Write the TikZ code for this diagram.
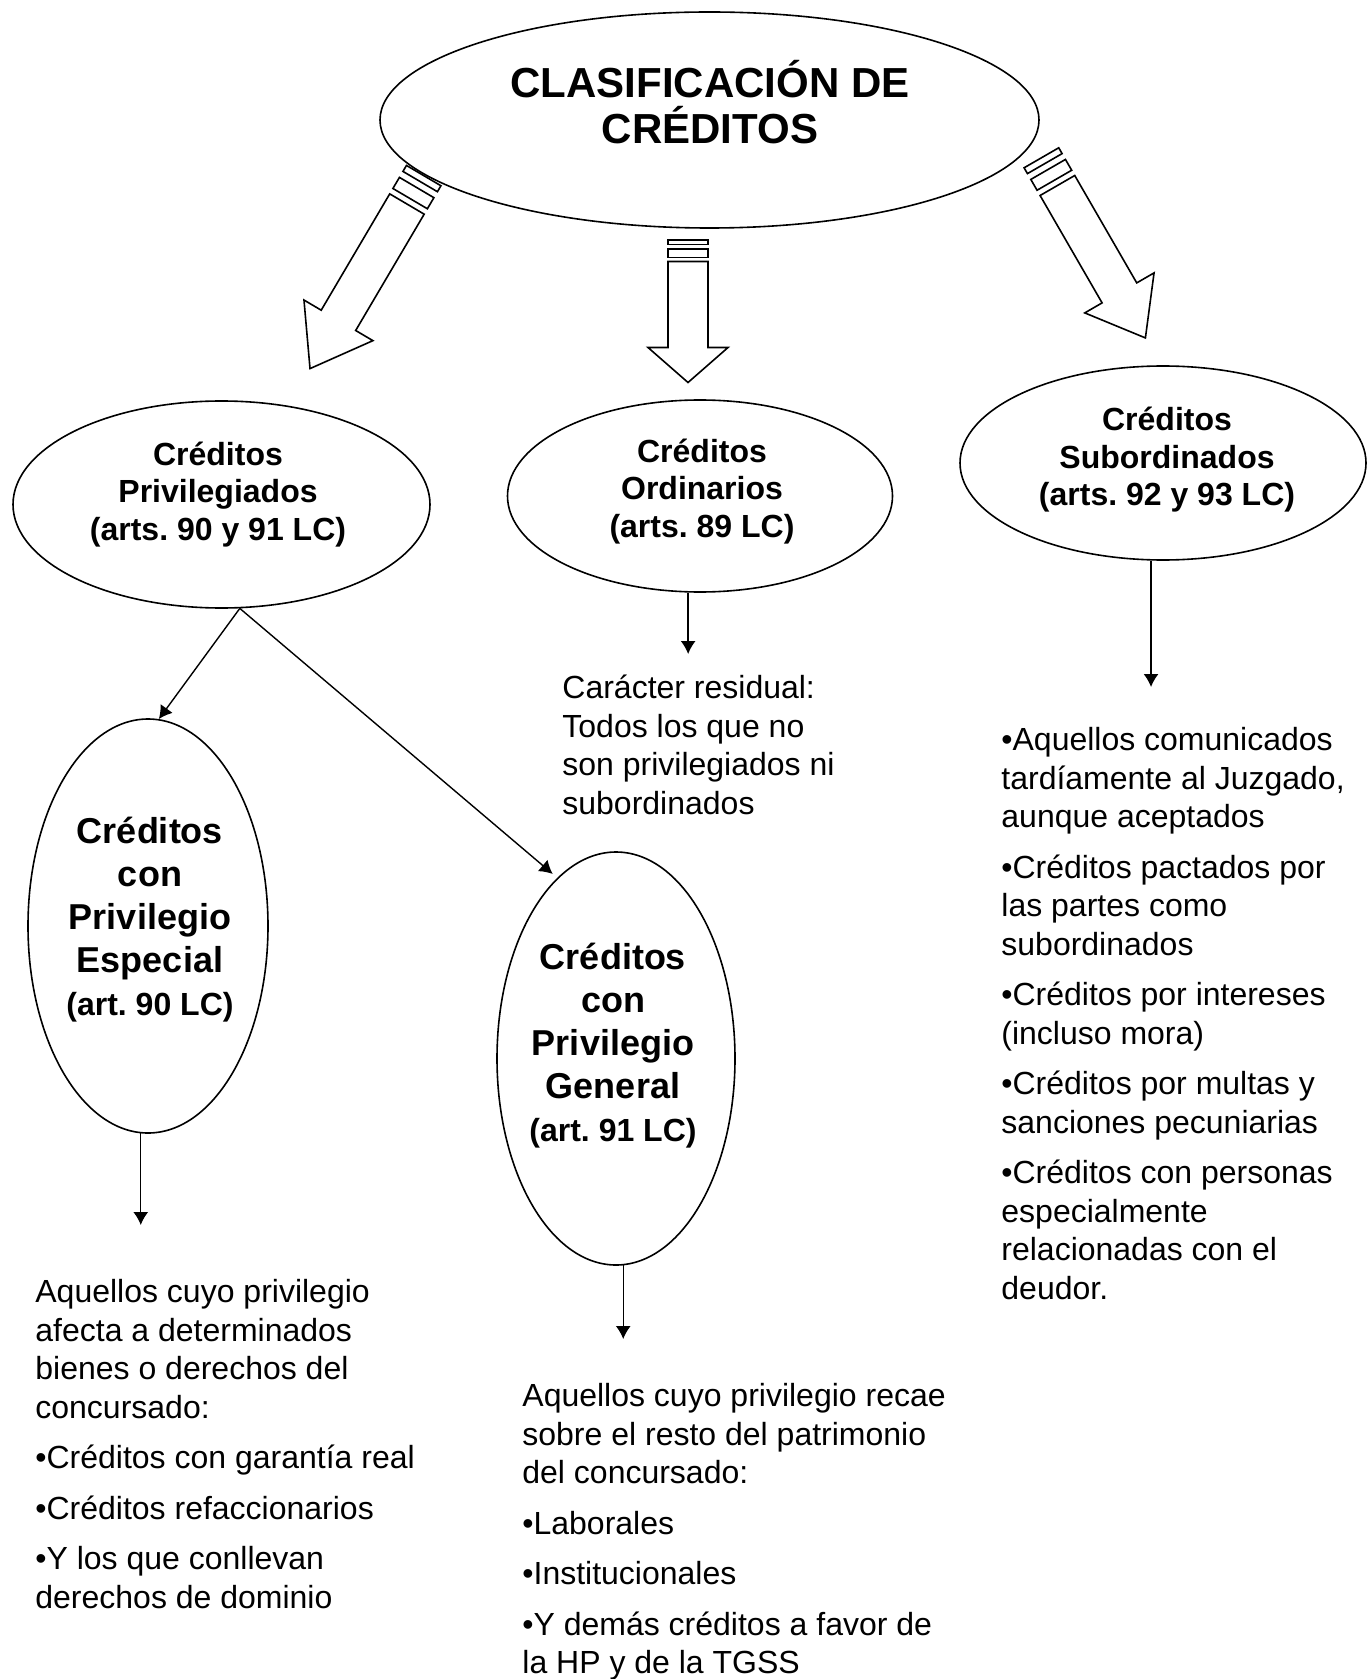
\documentclass[tikz,border=0pt]{standalone}
\usepackage{fontspec}
\setmainfont{Liberation Sans}
\frenchspacing
\usetikzlibrary{shapes.geometric,arrows.meta}

% striped block arrow: tail, angle, stripe length, shaft length, head length
\newcommand{\stripearrow}[5]{%
  \begin{scope}[shift={#1}, rotate=#2]
    \draw[blockarrow] (0,-20) rectangle (0.21*#3,20);
    \draw[blockarrow] (0.42*#3,-20) rectangle (0.81*#3,20);
    \draw[blockarrow] (#3,-20) -- ++(#4,0) -- ++(0,-20) -- ++(#5,40) -- ++(-#5,40) -- ++(0,-20) -- ++(-#4,0) -- cycle;
  \end{scope}}

\begin{document}
\begin{tikzpicture}[
    x=0.5pt, y=-0.5pt,
    oval/.style={ellipse, draw, line width=0.8pt, inner sep=0pt},
    titletxt/.style={align=center, font=\bfseries\fontsize{21}{23}\selectfont},
    headtxt/.style={align=center, font=\bfseries\fontsize{16}{18.75}\selectfont},
    bigtxt/.style={align=center, font=\bfseries\fontsize{18}{21.5}\selectfont},
    listtxt/.style={align=left, anchor=north west, inner sep=0pt, font=\fontsize{16}{19.25}\selectfont},
    link/.style={-{Latex[length=6.5pt,width=7.5pt]}, line width=0.7pt},
    blockarrow/.style={line width=0.8pt, line join=miter}
  ]
    \fill[white] (0,0) rectangle (1368,1679);
    \useasboundingbox (0,0) rectangle (1368,1679);

    % Top: classification
    \node[oval, minimum width=329.5pt, minimum height=108pt] (top) at (709.5,120) {};
    \node[titletxt] (toptxt) at (710,102) {CLASIFICACIÓN DE\\CRÉDITOS};

    % Striped arrows out of the top oval
    \stripearrow{(423.7,175.6)}{-120.5}{33}{135}{56}
    \stripearrow{(688,240)}{-90}{21.5}{86}{35}
    \stripearrow{(1041.4,157.8)}{-60}{32}{124}{52}

    % Row 2: Privilegiados, Ordinarios, Subordinados
    \node[oval, minimum width=208.5pt, minimum height=103.5pt] (priv) at (221.5,504.5) {};
    \node[headtxt] (privtxt) at (218,494.5) {Créditos\\Privilegiados\\(arts. 90 y 91 LC)};

    \node[oval, minimum width=192.5pt, minimum height=96pt] (ord) at (700,496) {};
    \node[headtxt] (ordtxt) at (702,491.5) {Créditos\\Ordinarios\\(arts. 89 LC)};

    \node[oval, minimum width=203pt, minimum height=97pt] (sub) at (1163,463) {};
    \node[headtxt] (subtxt) at (1167,460) {Créditos\\Subordinados\\(arts. 92 y 93 LC)};

    % Row 3: Especial, General
    \node[oval, minimum width=120pt, minimum height=207pt] (esp) at (148,926) {};
    \node[bigtxt] (esptxt) at (150,920) {Créditos\\con\\Privilegio\\Especial\\{\fontsize{16}{21.5}\selectfont (art. 90 LC)}};

    \node[oval, minimum width=119pt, minimum height=206.5pt] (gen) at (616,1058.5) {};
    \node[bigtxt] (gentxt) at (613,1046) {Créditos\\con\\Privilegio\\General\\{\fontsize{16}{21.5}\selectfont (art. 91 LC)}};

    % Texts
    \node[listtxt] (resid) at (562,675) {Carácter residual:\\Todos los que no\\son privilegiados ni\\subordinados};

    \node[listtxt] (sublist) at (1001,727) {%
      •Aquellos comunicados\\tardíamente al Juzgado,\\aunque aceptados\\[6pt]%
      •Créditos pactados por\\las partes como\\subordinados\\[6pt]%
      •Créditos por intereses\\(incluso mora)\\[6pt]%
      •Créditos por multas y\\sanciones pecuniarias\\[6pt]%
      •Créditos con personas\\especialmente\\relacionadas con el\\deudor.};

    \node[listtxt] (esplist) at (35,1279) {%
      Aquellos cuyo privilegio\\afecta a determinados\\bienes o derechos del\\concursado:\\[6pt]%
      •Créditos con garantía real\\[6pt]%
      •Créditos refaccionarios\\[6pt]%
      •Y los que conllevan\\derechos de dominio};

    \node[listtxt] (genlist) at (522,1383) {%
      Aquellos cuyo privilegio recae\\sobre el resto del patrimonio\\del concursado:\\[6pt]%
      •Laborales\\[6pt]%
      •Institucionales\\[6pt]%
      •Y demás créditos a favor de\\la HP y de la TGSS};

    % Relations
    \draw[link] (priv.280) -- (esp.87);
    \draw[link, shorten >=3pt] (priv.280) -- (gen.108);
    \draw[link, shorten >=10.5pt] (ord.263) -- (ord.263 |- resid.north);
    \draw[link, shorten >=20pt] (sub.263) -- (sub.263 |- sublist.north);
    \draw[link, shorten >=27pt] (esp.268) -- (esp.268 |- esplist.north);
    \draw[link, shorten >=22pt] (gen.272) -- (gen.272 |- genlist.north);
  \end{tikzpicture}
\end{document}
